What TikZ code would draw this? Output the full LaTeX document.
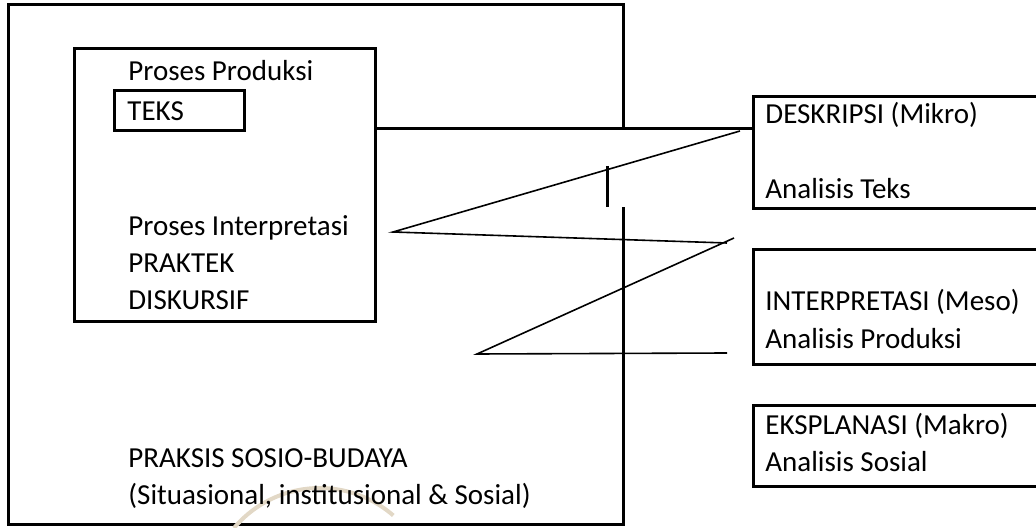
\documentclass[tikz,border=0pt]{standalone}
\usepackage{fontspec}
\setmainfont{Carlito}
\usepackage{xcolor}
\usepackage{tikz}
\usetikzlibrary{calc}

\definecolor{pudar}{RGB}{226,216,198}

\begin{document}
\begin{tikzpicture}[x=0.5pt, y=-0.5pt]
    % Gaya
    \tikzset{
        kotak/.style = {rectangle, draw, line width=1.5pt, inner sep=0pt, anchor=north west},
        teks/.style  = {anchor=base west, inner sep=0pt, font=\fontsize{14.5pt}{18.75pt}\selectfont},
        tebal/.style = {draw, line width=1.5pt},
        tipis/.style = {draw, line width=0.8pt}
    }
    \path[use as bounding box, clip] (0,0) rectangle (1036,528);

    % Kotak luar: praksis sosio-budaya (sisi kanan terputus)
    \draw[tebal] (623,129) -- (623,5) -- (8,5) -- (8,524) -- (623,524) -- (623,207);
    \draw[tebal] (607,166) -- (607,207);
    \draw[pudar, line width=2pt] (234,528) arc[start angle=220, end angle=311, radius=112];

    % Kotak praktek diskursif dan kotak teks
    \node [kotak, minimum width=150.5pt, minimum height=136.5pt] (kotakpraktek) at (73,47) {};
    \node [kotak, minimum width=65pt, minimum height=20pt] (kotakteks) at (113,89) {};

    % Kotak analisis (kanan)
    \node [kotak, minimum width=200pt, minimum height=56pt] (kotakmikro) at (752,95) {};
    \node [kotak, minimum width=200pt, minimum height=57.5pt] (kotakmeso) at (752,248) {};
    \node [kotak, minimum width=200pt, minimum height=40.5pt] (kotakmakro) at (752,404) {};

    % Teks kiri
    \node [teks] (produksi) at (128,81) {Proses Produksi};
    \node [teks] (teks) at (127,121) {TEKS};
    \node [teks] (interpretasi) at (128,236) {Proses Interpretasi};
    \node [teks] (praktek) at (128,273) {PRAKTEK};
    \node [teks] (diskursif) at (128,310) {DISKURSIF};
    \node [teks] (praksis) at (128,467) {PRAKSIS SOSIO-BUDAYA};
    \node [teks] (situasional) at (128,504) {(Situasional, institusional \& Sosial)};

    % Teks kanan
    \node [teks] (mikro) at (765,124) {DESKRIPSI (Mikro)};
    \node [teks] (anteks) at (765,199) {Analisis Teks};
    \node [teks] (meso) at (765,311) {INTERPRETASI (Meso)};
    \node [teks] (anproduksi) at (765,349) {Analisis Produksi};
    \node [teks] (makro) at (765,434) {EKSPLANASI (Makro)};
    \node [teks] (ansosial) at (765,471) {Analisis Sosial};

    % Garis penghubung
    \coordinate (hub) at (752,129);
    \coordinate (z1) at (740,131);
    \coordinate (z2) at (393,232);
    \coordinate (z3) at (727,243);
    \coordinate (z4) at (734,238);
    \coordinate (z5) at (477,354);
    \coordinate (z6) at (727,353);

    \path [tebal] (kotakpraktek.east |- hub) -- (hub);
    \path [tipis] (z1) -- (z2) -- (z3);
    \path [tipis] (z4) -- (z5) -- (z6);
\end{tikzpicture}
\end{document}
